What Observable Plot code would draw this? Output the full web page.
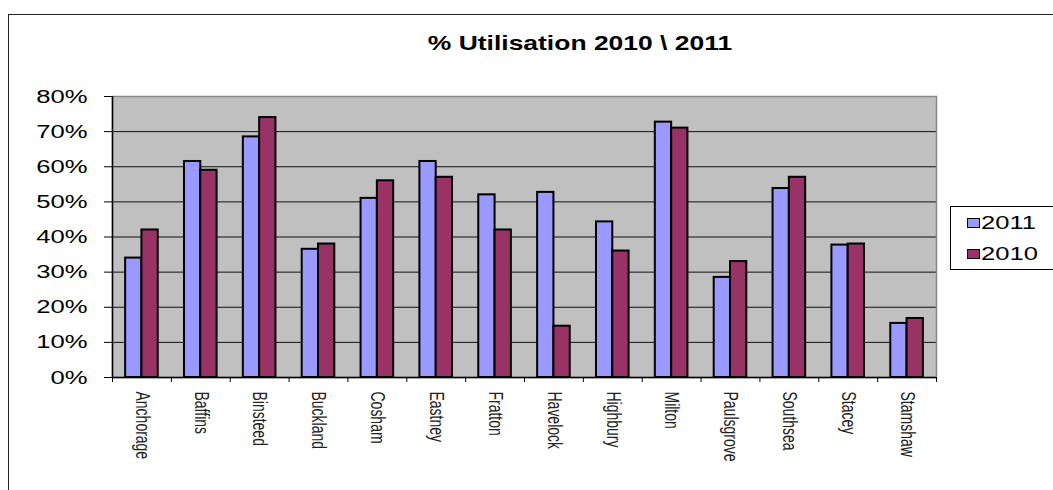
<!DOCTYPE html>
<html>
<head>
<meta charset="utf-8">
<script src="https://cdn.jsdelivr.net/npm/d3@7"></script>
<script src="https://cdn.jsdelivr.net/npm/@observablehq/plot@0.6"></script>
<style>
  body { margin: 0; background: #fff; }
  #chart { position: relative; width: 1053px; height: 490px; overflow: hidden; font-family: "Liberation Sans", Arial, sans-serif; }
  #chart svg { position: absolute; left: 0; top: 0; }
  #border { position: absolute; left: 8px; top: 14px; width: 1060px; height: 500px; border-top: 1px solid #222; border-left: 1px solid #222; }
  #title { position: absolute; left: 579.5px; top: 32px; font-size: 21px; line-height: 21px; font-weight: bold; white-space: nowrap; color: #000; transform: translateX(-50%) scaleX(1.26); }
  #legend { position: absolute; left: 950px; top: 206px; width: 130px; height: 62px; border: 1px solid #000; background: #fff; }
  .swatch { position: absolute; left: 16px; width: 13px; height: 10px; box-sizing: border-box; border: 1px solid #000; }
  .ltext { position: absolute; left: 30px; font-size: 18px; line-height: 18px; color: #000; transform-origin: left center; transform: scaleX(1.42); white-space: nowrap; }
</style>
</head>
<body>
<div id="chart">
  <div id="border"></div>
  <div id="title"></div>
  <div id="legend"></div>
</div>
<script>
// Centres and their utilisation rates (fractions) for each year
const centres = ["Anchorage", "Baffins", "Binsteed", "Buckland", "Cosham", "Eastney", "Fratton",
                 "Havelock", "Highbury", "Milton", "Paulsgrove", "Southsea", "Stacey", "Stamshaw"];
const util2011 = [0.34, 0.615, 0.685, 0.365, 0.51, 0.615, 0.52, 0.527, 0.443, 0.727, 0.285, 0.538, 0.377, 0.154];
const util2010 = [0.42, 0.59, 0.74, 0.38, 0.56, 0.57, 0.42, 0.146, 0.36, 0.71, 0.33, 0.57, 0.38, 0.168];
const years = ["2011", "2010"];
const yearColors = ["#9999FF", "#993366"];
const yTicks = [0, 0.1, 0.2, 0.3, 0.4, 0.5, 0.6, 0.7, 0.8];
const titleText = "% Utilisation 2010 \\ 2011";

// Long table: one row per centre and year
const rows = centres.flatMap((name, i) => [
  {i, name, year: "2011", value: util2011[i]},
  {i, name, year: "2010", value: util2010[i]}
]);

const barW = 0.277; // bar width as a fraction of each centre's slot
const slotEdges = d3.range(centres.length + 1);
const slotMids = centres.map((_, i) => i + 0.5);

const chart = Plot.plot({
  width: 1053,
  height: 490,
  marginLeft: 112,
  marginRight: 117,
  marginTop: 96,
  marginBottom: 113,
  style: {fontFamily: "'Liberation Sans', Arial, sans-serif", color: "#000", background: "transparent"},
  x: {domain: [0, centres.length], axis: null, label: null},
  y: {domain: [0, 0.8], axis: null, label: null},
  color: {domain: years, range: yearColors},
  marks: [
    Plot.frame({fill: "#C0C0C0", stroke: null}),
    Plot.ruleY(yTicks.filter(t => t > 0 && t < 0.8), {stroke: "#111", strokeWidth: 1}),
    Plot.frame({stroke: "#888", strokeWidth: 1.5}),
    Plot.rectY(rows, {
      x1: d => d.i + (d.year === "2011" ? 0.5 - barW : 0.5),
      x2: d => d.i + (d.year === "2011" ? 0.5 : 0.5 + barW),
      y1: 0,
      y2: "value",
      fill: "year",
      stroke: "#000",
      strokeWidth: 2
    }),
    Plot.ruleX([0], {stroke: "#000", strokeWidth: 1.5}),
    Plot.ruleY([0], {stroke: "#000", strokeWidth: 1.5}),
    Plot.axisY({ticks: yTicks, tickFormat: d3.format(".0%"), tickSize: 8, tickPadding: 17, fontSize: 19,
                stroke: "#000", label: null}),
    Plot.axisX({ticks: slotEdges, tickFormat: () => "", tickSize: 5, stroke: "#000", label: null}),
    Plot.axisX({ticks: slotMids, tickFormat: t => centres[Math.floor(t)], tickSize: 0, tickPadding: 14,
                tickRotate: 90, fontSize: 14, fill: "#222", label: null})
  ]
});

// Widen the glyphs horizontally, keeping each label's anchor point fixed
function widen(selection, k) {
  selection.each(function () {
    const t = this.getAttribute("transform");
    if (t) {
      this.setAttribute("transform", t.includes("rotate(")
        ? t.replace("rotate(", `scale(${k},1) rotate(`)
        : `${t} scale(${k},1)`);
    } else {
      const x = +this.getAttribute("x") || 0, y = +this.getAttribute("y") || 0;
      this.setAttribute("transform", `translate(${x},${y}) scale(${k},1) translate(${-x},${-y})`);
    }
  });
}
const svg = d3.select(chart);
widen(svg.selectAll('g[aria-label="y-axis tick label"] text'), 1.35);
widen(svg.selectAll('g[aria-label="x-axis tick label"] text'), 1.4);

document.getElementById("chart").appendChild(chart);
document.getElementById("title").textContent = titleText;

// Legend
const legend = document.getElementById("legend");
years.forEach((y, k) => {
  const sw = document.createElement("div");
  sw.className = "swatch";
  sw.style.top = (11 + k * 31) + "px";
  sw.style.background = yearColors[k];
  legend.appendChild(sw);
  const tx = document.createElement("div");
  tx.className = "ltext";
  tx.style.top = (7 + k * 31) + "px";
  tx.textContent = y;
  legend.appendChild(tx);
});
</script>
</body>
</html>
